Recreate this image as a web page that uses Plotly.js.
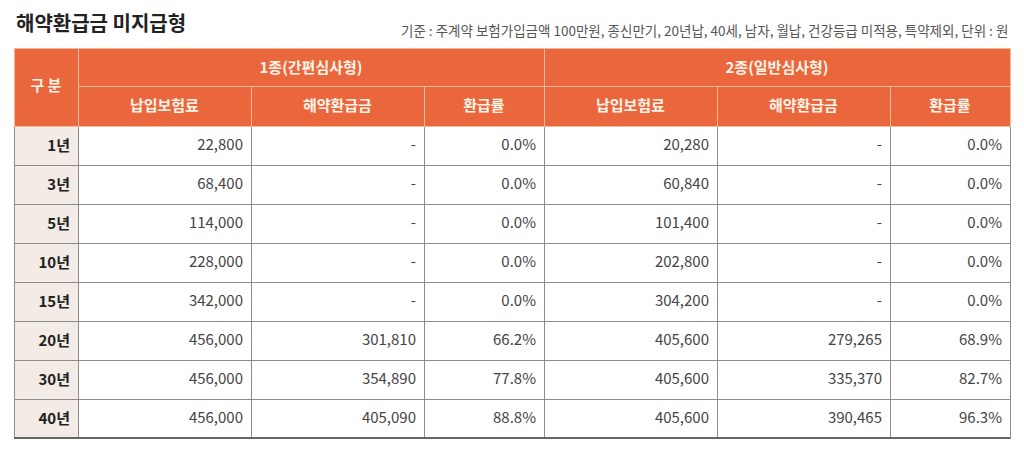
<!DOCTYPE html>
<html><head><meta charset="utf-8">
<script src="https://cdn.plot.ly/plotly-3.0.1.min.js"></script>
<style>html,body{margin:0;padding:0;background:#fff}#chart{width:1024px;height:453px}</style>
</head><body><div id="chart"></div>
<script>
const title = '해약환급금 미지급형';
const subtitle = '기준 : 주계약 보험가입금액 100만원, 종신만기, 20년납, 40세, 남자, 월납, 건강등급 미적용, 특약제외, 단위 : 원';
const rowLabel = '구 분';
const groups = ['1종(간편심사형)', '2종(일반심사형)'];
const subHeaders = ['납입보험료', '해약환급금', '환급률', '납입보험료', '해약환급금', '환급률'];
const years = ['1년', '3년', '5년', '10년', '15년', '20년', '30년', '40년'];
const premium1 = ['22,800', '68,400', '114,000', '228,000', '342,000', '456,000', '456,000', '456,000'];
const refund1 = ['-', '-', '-', '-', '-', '301,810', '354,890', '405,090'];
const rate1 = ['0.0%', '0.0%', '0.0%', '0.0%', '0.0%', '66.2%', '77.8%', '88.8%'];
const premium2 = ['20,280', '60,840', '101,400', '202,800', '304,200', '405,600', '405,600', '405,600'];
const refund2 = ['-', '-', '-', '-', '-', '279,265', '335,370', '390,465'];
const rate2 = ['0.0%', '0.0%', '0.0%', '0.0%', '0.0%', '68.9%', '82.7%', '96.3%'];

const W = 1024, H = 453;
const FONT = '"Noto Sans CJK KR", "Noto Sans", sans-serif';
const ORANGE = '#ea673d';
const HLINE = '#f6b996';
const GRID = '#8c8c8c';
const NONE = 'rgba(0,0,0,0)';
const x0 = 14, xA = 78, x1 = 1010;
const yTop = 48, ySub = 86;
const bold = arr => arr.map(s => '<b>' + s + '</b>');
const blanks = arr => arr.map(() => '');

const hdrFont = {family: FONT, size: 15, color: '#fff4e8'};
const cellFont = {family: FONT, size: 15, color: '#444444'};
const yearFont = {family: FONT, size: 15, color: '#222222'};
const dataCols = [premium1, refund1, rate1, premium2, refund2, rate2];
const dataWidths = [173, 173, 120, 173, 173, 120];

const dom = (xl, xr, ytop) => ({x: [xl / W, xr / W], y: [0, 1 - ytop / H]});

// frame layer: fills + grid lines only
function frame(xl, xr, ytop, hv, hh, cv, cw, cellFill) {
  return {
    type: 'table', domain: dom(xl, xr, ytop), columnwidth: cw,
    header: {values: hv, height: hh, fill: {color: ORANGE}, line: {color: HLINE, width: 1},
             font: {family: FONT, size: 15, color: NONE}, align: 'center'},
    cells: {values: cv, height: 39, fill: {color: cellFill}, line: {color: GRID, width: 1},
            font: {family: FONT, size: 15, color: NONE}, align: 'right'}
  };
}
// text layer: no fills, no lines; its top may be moved down to centre the text in the cells
function textLayer(xl, xr, ytop, hv, hh, cv, cw, cf) {
  return {
    type: 'table', domain: dom(xl, xr, ytop), columnwidth: cw,
    header: {values: hv, height: hh, fill: {color: NONE}, line: {color: NONE, width: 0},
             font: hdrFont, align: 'center'},
    cells: {values: cv, height: 39, fill: {color: NONE}, line: {color: NONE, width: 0},
            font: cf, align: 'right'}
  };
}

const traces = [
  // row-label column (구분 header spans both header rows)
  frame(x0, xA, yTop, [''], 78, [blanks(years)], undefined, '#f2ebe6'),
  textLayer(x0, xA, yTop, [''], 78, [bold(years)], undefined, yearFont),
  textLayer(x0, xA, yTop + 18, ['<b>' + rowLabel + '</b>'], 30, [[]], undefined, yearFont),
  // group header row
  frame(xA, x1, yTop, groups.map(() => ''), 38, [[], []], [1, 1], '#ffffff'),
  textLayer(xA, x1, yTop, bold(groups), 38, [[], []], [1, 1], cellFont),
  // sub headers + data
  frame(xA, x1, ySub, blanks(subHeaders), 40, dataCols.map(blanks), dataWidths, '#ffffff'),
  textLayer(xA, x1, ySub, bold(subHeaders), 40, dataCols.map(() => []), dataWidths, cellFont),
  textLayer(xA, x1, ySub + 5, blanks(subHeaders), 40, dataCols, dataWidths, cellFont)
];

const layout = {
  width: W, height: H,
  margin: {l: 0, r: 0, t: 0, b: 0},
  paper_bgcolor: '#ffffff',
  showlegend: false,
  annotations: [
    {text: '<b>' + title + '</b>', xref: 'paper', yref: 'paper', x: x0 / W, y: 1 - 22 / H,
     xanchor: 'left', yanchor: 'middle', showarrow: false,
     font: {family: FONT, size: 20, color: '#222222'}},
    {text: subtitle, xref: 'paper', yref: 'paper', x: x1 / W, y: 1 - 30 / H,
     xanchor: 'right', yanchor: 'middle', showarrow: false,
     font: {family: FONT, size: 13.5, color: '#555555'}}
  ],
  shapes: [
    {type: 'line', xref: 'paper', yref: 'paper', x0: x0 / W, x1: x1 / W, y0: 1 - 438 / H, y1: 1 - 438 / H,
     line: {color: '#666666', width: 2}}
  ]
};

Plotly.newPlot('chart', traces, layout, {displayModeBar: false, staticPlot: true});
</script>
</body></html>
